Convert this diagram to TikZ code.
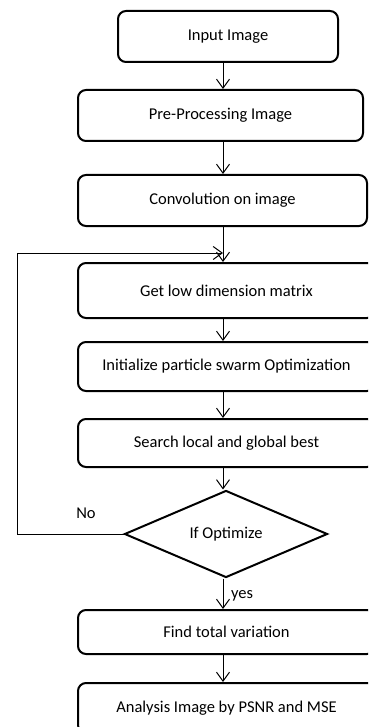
\documentclass[tikz,border=0pt]{standalone}
\usepackage{fontspec}
\setmainfont{Carlito}
\usetikzlibrary{shapes.geometric,arrows.meta}
\begin{document}
\begin{tikzpicture}[x=1pt,y=-1pt,
  txt/.style={font=\fontsize{16.5}{19}\selectfont},
  box/.style={txt, draw, line width=2pt, rounded corners=8pt, inner sep=0pt},
  dec/.style={txt, draw, diamond, line width=2pt, inner sep=0pt, minimum width=203pt, minimum height=85pt},
  conn/.style={line width=1pt, -{Straight Barb[length=9pt,width=13pt]}},
  plain/.style={line width=1pt}]
\useasboundingbox (0,0) rectangle (368,727);
\clip (0,0) rectangle (368,727);
\coordinate (sp) at (223,0);
\node[box, minimum width=220pt, minimum height=51pt] (in) at (228,36.5) {Input Image};
\node[box, minimum width=285pt, minimum height=51pt] (pre) at (220.5,115.5) {Pre-Processing Image};
\node[box, minimum width=289pt, minimum height=51pt] (conv) at (222.5,200.5) {Convolution on image};
\node[box, minimum width=297pt, minimum height=55pt] (get) at (226.5,290.5) {Get low dimension matrix};
\node[box, minimum width=297pt, minimum height=49pt] (init) at (226.5,366.5) {Initialize particle swarm Optimization};
\node[box, minimum width=297pt, minimum height=48pt] (srch) at (226.5,443) {Search local and global best};
\node[dec] (opt) at (226,534) {If Optimize};
\node[box, minimum width=297pt, minimum height=44pt] (tv) at (226.5,632) {Find total variation};
\node[box, minimum width=297pt, minimum height=50pt] (ana) at (226.5,708) {Analysis Image by PSNR and MSE};
\node[txt] (no) at (86,513) {No};
\node[txt] (yes) at (242,596) {yes};
\draw[conn] (in.south -| sp) -- (pre.north -| sp);
\draw[conn] (pre.south -| sp) -- (conv.north -| sp);
\draw[conn] (conv.south -| sp) -- (get.north -| sp);
\draw[conn] (get.south -| sp) -- (init.north -| sp);
\draw[conn] (init.south -| sp) -- (srch.north -| sp);
\draw[conn] (srch.south -| sp) -- (opt.north -| sp);
\draw[conn] (opt.south -| sp) -- (tv.north -| sp);
\draw[conn] (tv.south -| sp) -- (ana.north -| sp);
\coordinate (fb) at (17,253);
\draw[conn] (opt.west) -| (fb) -- (fb -| sp);
\end{tikzpicture}
\end{document}
